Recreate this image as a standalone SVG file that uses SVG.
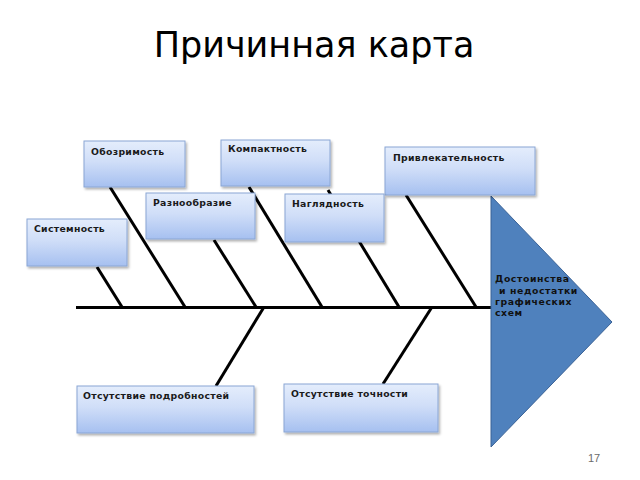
<svg xmlns="http://www.w3.org/2000/svg" width="640" height="480" viewBox="0 0 640 480">
<defs>
<linearGradient id="bg" x1="0" y1="0" x2="0" y2="1">
<stop offset="0" stop-color="#e4edfc"/>
<stop offset="0.45" stop-color="#d0def8"/>
<stop offset="1" stop-color="#a6c0f0"/>
</linearGradient>
<filter id="sh" x="-10%" y="-10%" width="130%" height="140%">
<feDropShadow dx="1.5" dy="2" stdDeviation="1.2" flood-color="#000" flood-opacity="0.3"/>
</filter>
</defs>
<style>
.box{fill:url(#bg);stroke:#8aa6d4;stroke-width:1;filter:url(#sh)}
.lbl{font-family:"DejaVu Sans",sans-serif;font-weight:bold;font-size:9.3px;letter-spacing:0.3px;fill:#1a1a1a}
.bone{stroke:#000;stroke-width:3;fill:none}
.title{font-family:"DejaVu Sans","Liberation Sans",sans-serif;font-size:35px;fill:#000}
.head{font-family:"DejaVu Sans",sans-serif;font-weight:bold;font-size:9.3px;letter-spacing:0.6px;fill:#111}
</style>
<rect width="640" height="480" fill="#fff"/>
<text class="title" x="314" y="57" text-anchor="middle">Причинная карта</text>

<g id="connectors">
<line class="bone" x1="76" y1="307.5" x2="492" y2="307.5"/>
<line class="bone" x1="97" y1="267" x2="122" y2="307"/>
<line class="bone" x1="110" y1="187" x2="185" y2="307"/>
<line class="bone" x1="214" y1="240" x2="256" y2="307"/>
<line class="bone" x1="249" y1="187" x2="322" y2="307"/>
<line class="bone" x1="328" y1="190" x2="399" y2="307"/>
<line class="bone" x1="406" y1="195" x2="476" y2="307"/>
<line class="bone" x1="216" y1="386" x2="264" y2="307"/>
<line class="bone" x1="383" y1="384" x2="432" y2="307"/>
</g>

<g id="head">
<polygon points="491,196 612,322 491,447" fill="#4f81bd" stroke="#3a6296" stroke-width="1"/>
<text class="head" x="495" y="282">Достоинства</text>
<text class="head" x="499" y="294">и недостатки</text>
<text class="head" x="495" y="305">графических</text>
<text class="head" x="495" y="316">схем</text>
</g>

<g id="n-oboz"><rect class="box" x="84" y="141" width="101" height="46"/><text class="lbl" x="91" y="155">Обозримость</text></g>
<g id="n-komp"><rect class="box" x="221" y="140" width="109" height="46"/><text class="lbl" x="228" y="152">Компактность</text></g>
<g id="n-privl"><rect class="box" x="385" y="147" width="150" height="48"/><text class="lbl" x="393" y="161">Привлекательность</text></g>
<g id="n-razn"><rect class="box" x="146" y="193" width="109" height="46"/><text class="lbl" x="153" y="206">Разнообразие</text></g>
<g id="n-nagl"><rect class="box" x="285" y="194" width="99" height="48"/><text class="lbl" x="292" y="207">Наглядность</text></g>
<g id="n-sist"><rect class="box" x="27" y="219" width="100" height="47"/><text class="lbl" x="34" y="232">Системность</text></g>
<g id="n-podr"><rect class="box" x="77" y="386" width="177" height="47"/><text class="lbl" x="83" y="399">Отсутствие подробностей</text></g>
<g id="n-toch"><rect class="box" x="284" y="384" width="154" height="48"/><text class="lbl" x="291" y="397">Отсутствие точности</text></g>

<text x="594" y="462" text-anchor="middle" font-family="Liberation Sans, sans-serif" font-size="11" fill="#6b6b6b">17</text>
</svg>
